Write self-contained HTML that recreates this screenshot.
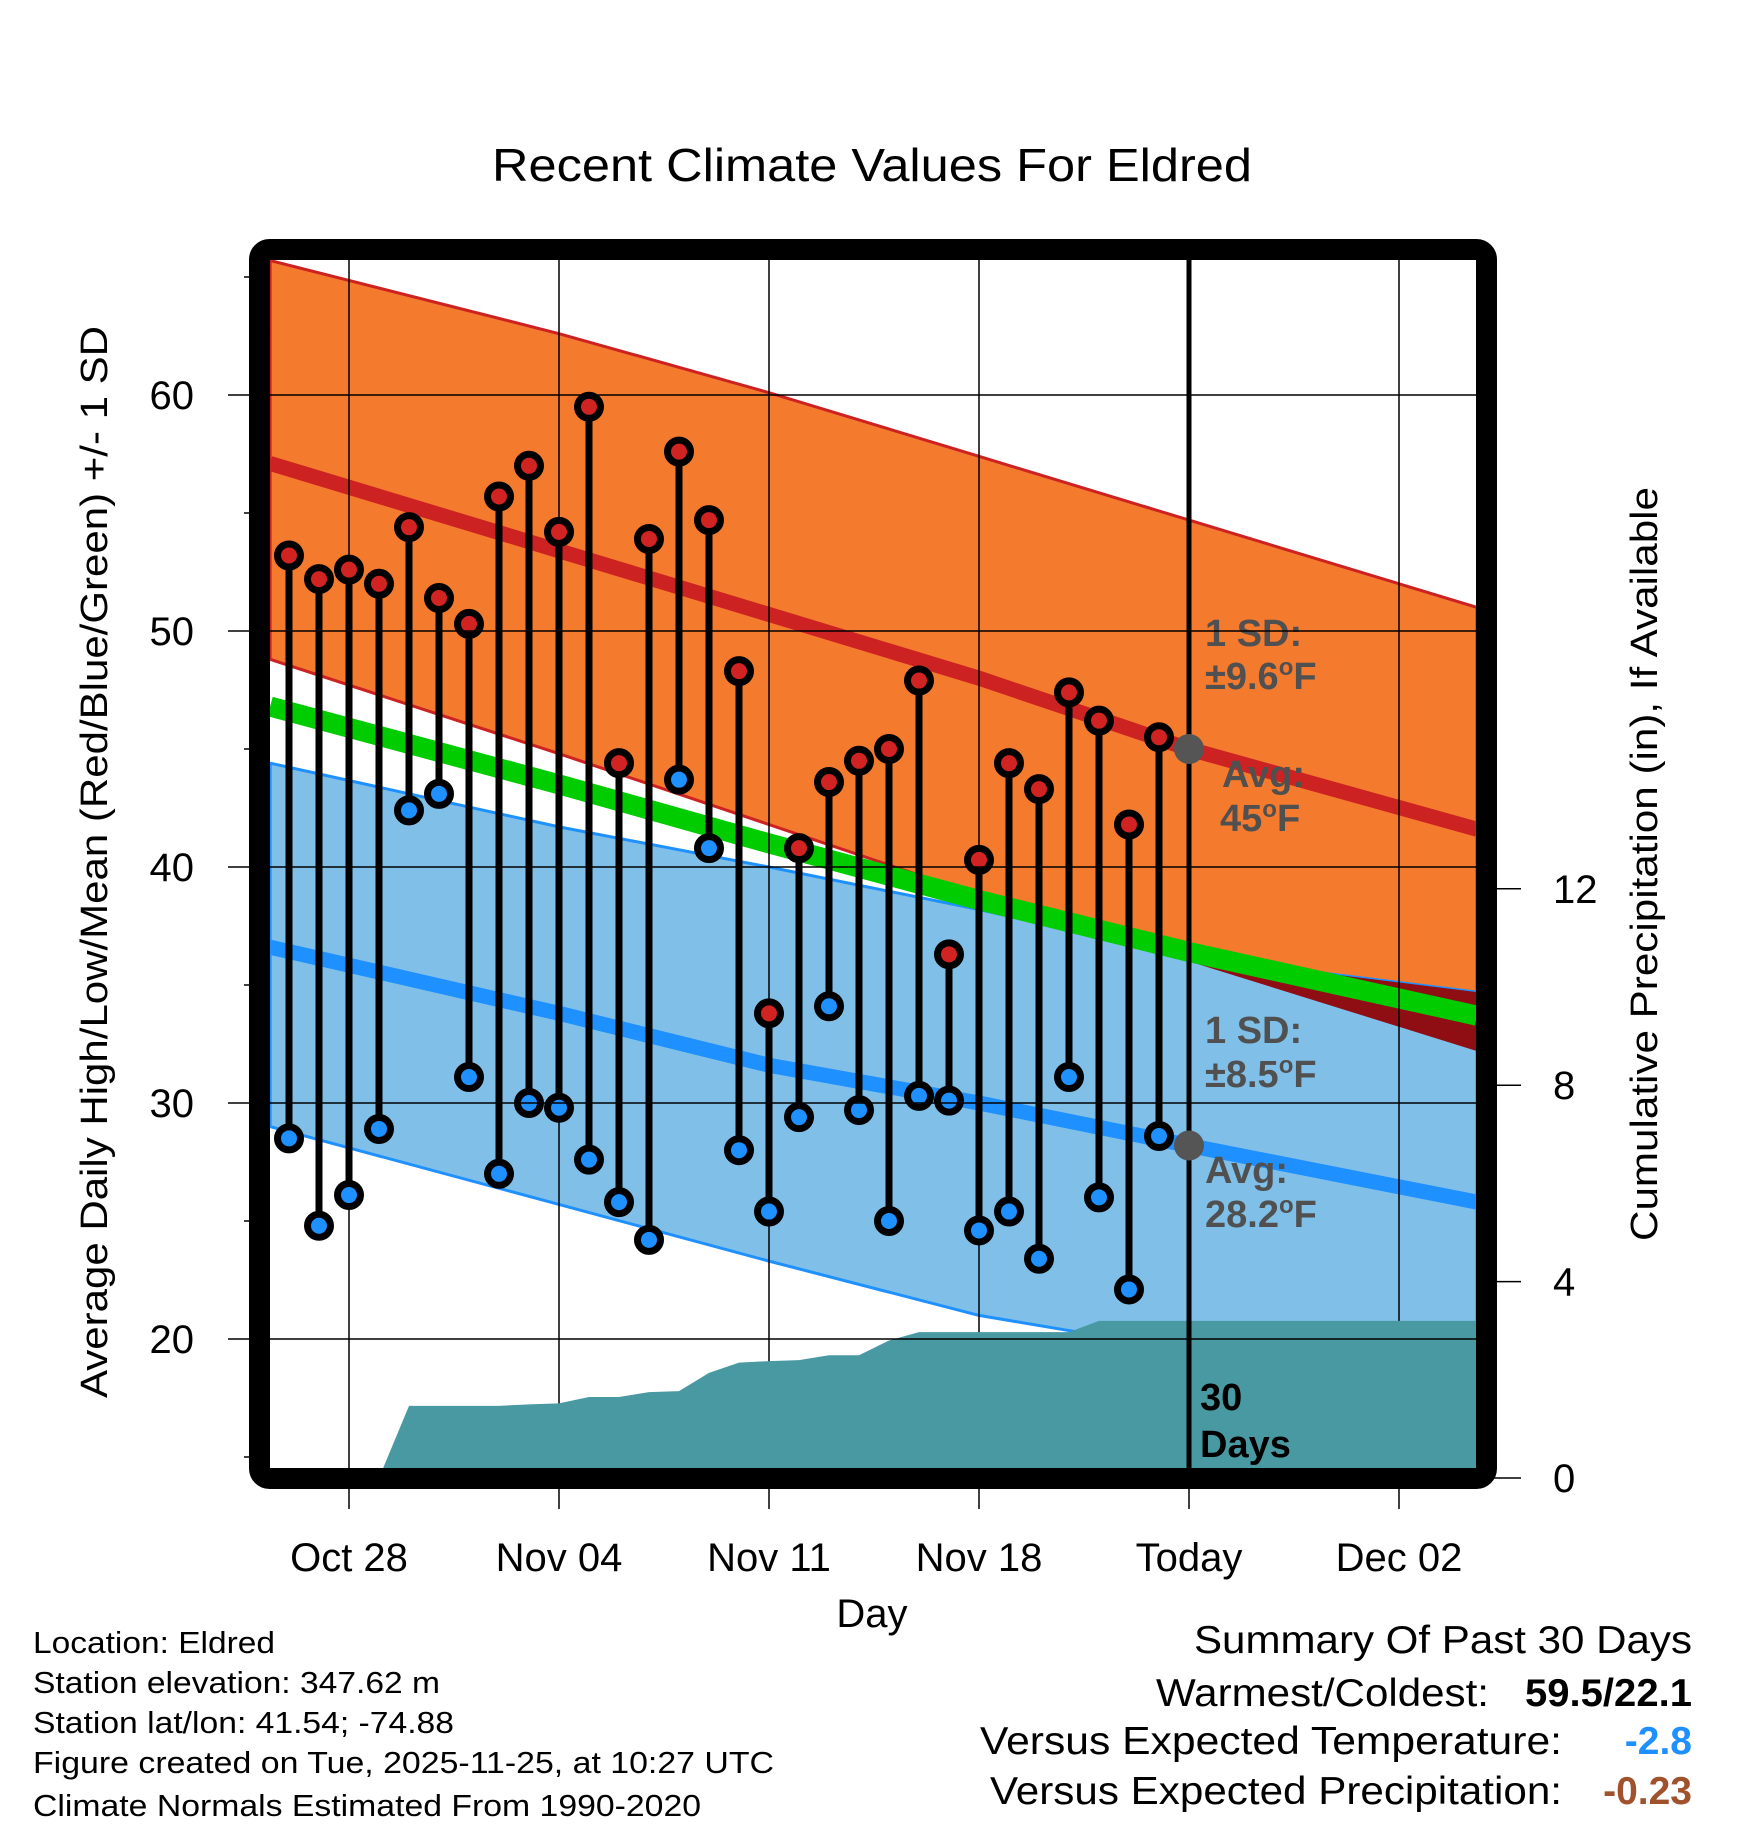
<!DOCTYPE html>
<html><head><meta charset="utf-8"><style>
html,body{margin:0;padding:0;background:#fff;}
svg{display:block;font-family:"Liberation Sans",sans-serif;}
</style></head><body>
<svg id="chart" width="1748" height="1828" viewBox="0 0 1748 1828" xmlns="http://www.w3.org/2000/svg">
<defs>
<clipPath id="plotClip"><rect x="270" y="260" width="1208" height="1208"/></clipPath>
</defs>
<g id="plot" clip-path="url(#plotClip)"></g>
<g id="fg"></g>
<text x="872" y="181" font-size="46" text-anchor="middle" textLength="760" lengthAdjust="spacingAndGlyphs">Recent Climate Values For Eldred</text>
<text x="872" y="1627" font-size="40" text-anchor="middle">Day</text>
<text transform="translate(107,862) rotate(-90)" font-size="38" text-anchor="middle" textLength="1072" lengthAdjust="spacingAndGlyphs">Average Daily High/Low/Mean (Red/Blue/Green) +/- 1 SD</text>
<text transform="translate(1657,864) rotate(-90)" font-size="38" text-anchor="middle" textLength="754" lengthAdjust="spacingAndGlyphs">Cumulative Precipitation (in), If Available</text>
<g font-size="31">
<text x="33" y="1653" textLength="242" lengthAdjust="spacingAndGlyphs">Location: Eldred</text>
<text x="33" y="1693" textLength="407" lengthAdjust="spacingAndGlyphs">Station elevation: 347.62 m</text>
<text x="33" y="1733" textLength="421" lengthAdjust="spacingAndGlyphs">Station lat/lon: 41.54; -74.88</text>
<text x="33" y="1773" textLength="741" lengthAdjust="spacingAndGlyphs">Figure created on Tue, 2025-11-25, at 10:27 UTC</text>
<text x="33" y="1816" textLength="668" lengthAdjust="spacingAndGlyphs">Climate Normals Estimated From 1990-2020</text>
</g>
<g font-size="39" text-anchor="end">
<text x="1692" y="1653" textLength="498" lengthAdjust="spacingAndGlyphs">Summary Of Past 30 Days</text>
<text x="1489" y="1706" textLength="333" lengthAdjust="spacingAndGlyphs">Warmest/Coldest:</text>
<text x="1692" y="1706" font-weight="bold" textLength="167" lengthAdjust="spacingAndGlyphs">59.5/22.1</text>
<text x="1562" y="1754" textLength="582" lengthAdjust="spacingAndGlyphs">Versus Expected Temperature:</text>
<text x="1692" y="1754" font-weight="bold" fill="#1E90FF">-2.8</text>
<text x="1562" y="1804" textLength="572" lengthAdjust="spacingAndGlyphs">Versus Expected Precipitation:</text>
<text x="1692" y="1804" font-weight="bold" fill="#A0522D">-0.23</text>
</g>
</svg>
<script>
// ---- data ----
const dayLabels = ["Oct 26","Oct 27","Oct 28","Oct 29","Oct 30","Oct 31","Nov 01","Nov 02","Nov 03","Nov 04","Nov 05","Nov 06","Nov 07","Nov 08","Nov 09","Nov 10","Nov 11","Nov 12","Nov 13","Nov 14","Nov 15","Nov 16","Nov 17","Nov 18","Nov 19","Nov 20","Nov 21","Nov 22","Nov 23","Nov 24"];
const dayOffsets = [-2,-1,0,1,2,3,4,5,6,7,8,9,10,11,12,13,14,15,16,17,18,19,20,21,22,23,24,25,26,27];
const highs = [53.2,52.2,52.6,52.0,54.4,51.4,50.3,55.7,57.0,54.2,59.5,44.4,53.9,57.6,54.7,48.3,33.8,40.8,43.6,44.5,45.0,47.9,36.3,40.3,44.4,43.3,47.4,46.2,41.8,45.5];
const lows = [28.5,24.8,26.1,28.9,42.4,43.1,31.1,27.0,30.0,29.8,27.6,25.8,24.2,43.7,40.8,28.0,25.4,29.4,34.1,29.7,25.0,30.3,30.1,24.6,25.4,23.4,31.1,26.0,22.1,28.6];
const precip = [0,0,0,0,1.47,1.47,1.47,1.47,1.50,1.52,1.65,1.65,1.75,1.77,2.14,2.35,2.38,2.40,2.50,2.50,2.80,2.97,2.97,2.97,2.97,2.97,2.97,3.20,3.20,3.20];
const normDays = [-2.63,7,14,21,28,37.6];
const hiUpper = [65.7,62.6,60.1,57.4,54.7,51.0];
const hiAvg = [57.1,53.4,50.7,48.0,45.0,41.6];
const hiLower = [48.8,44.8,41.8,38.8,36.0,32.2];
const meanAvg = [46.8,43.5,41.0,38.6,36.4,33.7];
const loUpper = [44.4,41.7,40.0,38.2,36.2,34.7];
const loAvg = [36.6,33.8,31.6,30.0,28.2,25.8];
const loLower = [29.0,25.7,23.3,21.0,19.5,17.2];
const tempTicks = [20,30,40,50,60];
const minorTicks = [15,25,35,45,55,65];
const precipTicks = [0,4,8,12];
const xTickDays = [0,7,14,21,28,35];
const xTickLabels = ["Oct 28","Nov 04","Nov 11","Nov 18","Today","Dec 02"];
const todayDay = 28;
const todayHigh = 45.0, todayLow = 28.2;
const rightEdgeDay = 37.6;

// ---- scales ----
const NS="http://www.w3.org/2000/svg";
const x = d => 349 + d*30;
const y = t => 395 + (60-t)*23.6;
const yp = p => 1478 - p*49.1;
const plot=document.getElementById('plot'), fg=document.getElementById('fg');
function mk(tag, attrs, parent){const e=document.createElementNS(NS,tag);for(const k in attrs)e.setAttribute(k,attrs[k]);parent.appendChild(e);return e;}
const line = arr => normDays.map((d,i)=>x(d)+','+y(arr[i])).join(' ');
const band = (a,b) => normDays.map((d,i)=>x(d)+','+y(a[i])).concat(normDays.map((d,i)=>x(d)+','+y(b[i])).reverse()).join(' ');

// bands
let e;
e=mk('polygon',{points:band(hiUpper,hiLower),fill:'#F47A2E',stroke:'#CC2222','stroke-width':3},plot);


e=mk('polygon',{points:band(loUpper,loLower),fill:'#80C0E8',stroke:'#1E90FF','stroke-width':3},plot);


const cp=mk('clipPath',{id:'hiBandClip'},document.querySelector('defs'));
mk('polygon',{points:band(hiUpper,hiLower)},cp);
e=mk('polygon',{points:band(loUpper,loLower),fill:'#8E0E14','clip-path':'url(#hiBandClip)'},plot);


e=mk('polyline',{points:line(meanAvg),fill:'none',stroke:'#00CC00','stroke-width':20},plot);


e=mk('polyline',{points:line(hiAvg),fill:'none',stroke:'#CC2222','stroke-width':15},plot);


e=mk('polyline',{points:line(loAvg),fill:'none',stroke:'#1E90FF','stroke-width':15},plot);



// grid (under precip)
tempTicks.forEach(t=>{e=mk('line',{x1:228,x2:1490,y1:y(t),y2:y(t),stroke:'#000','stroke-width':1.5},fg);

});
xTickDays.forEach(d=>{e=mk('line',{x1:x(d),x2:x(d),y1:218,y2:1509,stroke:'#000','stroke-width':1.5},plot);

});

// precip area
let pts=[x(dayOffsets[0])+','+yp(0)];
dayOffsets.forEach((d,i)=>pts.push(x(d)+','+yp(precip[i])));
pts.push(x(rightEdgeDay)+','+yp(precip[precip.length-1]));
pts.push(x(rightEdgeDay)+','+yp(0));
e=mk('polygon',{points:pts.join(' '),fill:'#4899A1'},plot);



// today line
e=mk('line',{x1:x(todayDay),x2:x(todayDay),y1:260,y2:1470,stroke:'#000','stroke-width':5},plot);



// stems and dots
dayOffsets.forEach((d,i)=>{
  e=mk('line',{x1:x(d),x2:x(d),y1:y(highs[i]),y2:y(lows[i]),stroke:'#000','stroke-width':7},plot);
  
  
});
dayOffsets.forEach((d,i)=>{
  e=mk('circle',{cx:x(d),cy:y(highs[i]),r:11.5,fill:'#D22323',stroke:'#000','stroke-width':7},plot);
  
  
  e=mk('circle',{cx:x(d),cy:y(lows[i]),r:11.5,fill:'#1E90FF',stroke:'#000','stroke-width':7},plot);
  
  
});
e=mk('circle',{cx:x(todayDay),cy:y(todayHigh),r:15,fill:'#555'},plot);


e=mk('circle',{cx:x(todayDay),cy:y(todayLow),r:15,fill:'#555'},plot);



// annotation labels
function ann(txt,xx,yy,fill,name){
  const t=mk('text',{x:xx,y:yy,'font-size':38,'font-weight':'bold',fill:fill},plot);
  t.innerHTML=txt;
  
  
}
ann('1 SD:',1205,646,'#505050','high-sd-label');
ann('±9.6<tspan font-size="24" dy="-14">o</tspan><tspan dy="14">F</tspan>',1205,689,'#505050','high-sd-value');
ann('Avg:',1222,787,'#505050','avg-high-label');
ann('45<tspan font-size="24" dy="-14">o</tspan><tspan dy="14">F</tspan>',1220,831,'#505050','avg-high-value');
ann('1 SD:',1205,1043,'#505050','low-sd-label');
ann('±8.5<tspan font-size="24" dy="-14">o</tspan><tspan dy="14">F</tspan>',1205,1087,'#505050','low-sd-value');
ann('Avg:',1205,1183,'#505050','avg-low-label');
ann('28.2<tspan font-size="24" dy="-14">o</tspan><tspan dy="14">F</tspan>',1205,1227,'#505050','avg-low-value');
ann('30',1200,1410,'#000','days-label-30');
ann('Days',1200,1457,'#000','days-label');

// frame
e=mk('rect',{x:259.5,y:249.5,width:1227,height:1229,rx:10,fill:'none',stroke:'#000','stroke-width':21},fg);



// ticks and labels
tempTicks.forEach(t=>{
  e=mk('text',{x:194,y:y(t)+14,'font-size':40,'text-anchor':'end'},fg); e.textContent=t;
  
  
});
minorTicks.forEach(t=>{
  e=mk('line',{x1:244,x2:252,y1:y(t),y2:y(t),stroke:'#000','stroke-width':1.5},fg);
  
  
});
precipTicks.forEach(p=>{
  e=mk('line',{x1:1490,x2:1521,y1:yp(p),y2:yp(p),stroke:'#000','stroke-width':1.5},fg);
  
  
  e=mk('text',{x:1553,y:yp(p)+14,'font-size':40,'text-anchor':'start'},fg); e.textContent=p;
  
  
});
xTickDays.forEach((d,i)=>{
  e=mk('line',{x1:x(d),x2:x(d),y1:1489,y2:1509,stroke:'#000','stroke-width':1.5},fg);
  
  
  e=mk('text',{x:x(d),y:1571,'font-size':40,'text-anchor':'middle'},fg); e.textContent=xTickLabels[i];
  
  
});
</script>
</body></html>
